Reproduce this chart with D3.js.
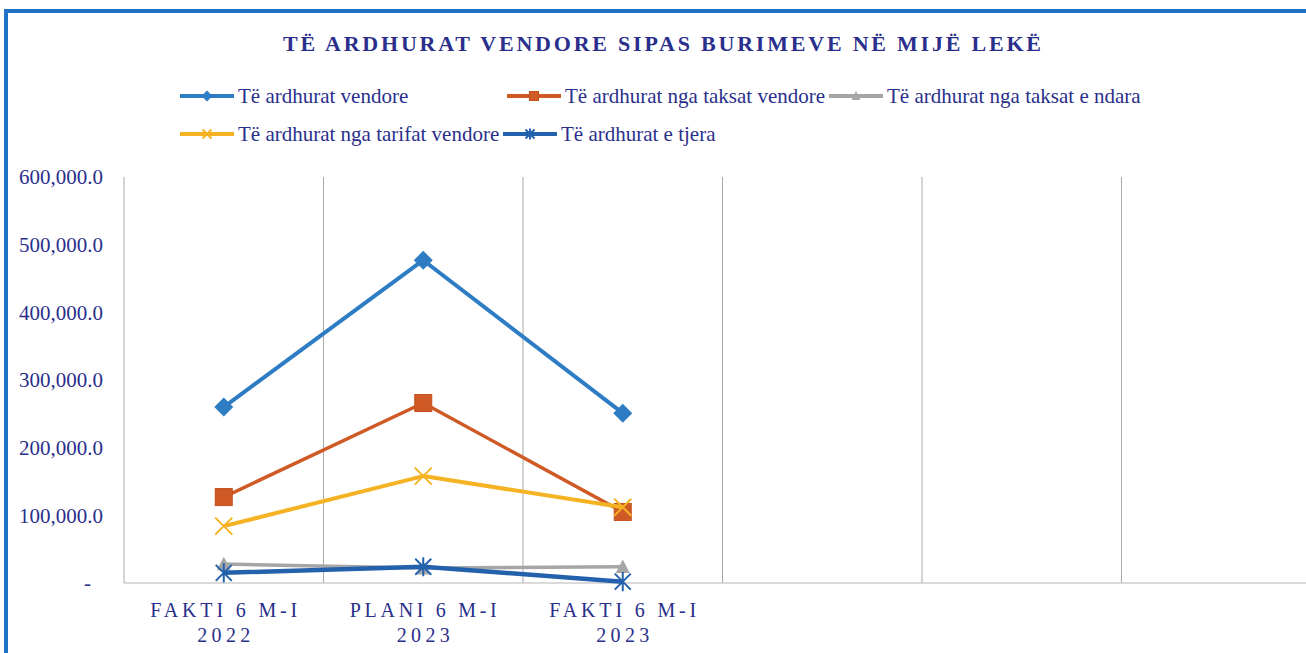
<!DOCTYPE html>
<html><head><meta charset="utf-8">
<script src="https://cdn.jsdelivr.net/npm/d3@7"></script>
<style>
html,body{margin:0;padding:0;background:#fff;}
svg{display:block;}
svg text{font-family:"Liberation Serif","DejaVu Serif","Times New Roman",serif;}
</style></head>
<body>
<script>
const title = "TË ARDHURAT VENDORE SIPAS BURIMEVE NË MIJË LEKË";
const categories = [["FAKTI 6 M-I","2022"],["PLANI 6 M-I","2023"],["FAKTI 6 M-I","2023"],["",""],["",""],["",""]];
const seriesNames = ["Të ardhurat vendore","Të ardhurat nga taksat vendore","Të ardhurat nga taksat e ndara","Të ardhurat nga tarifat vendore","Të ardhurat e tjera"];
const vendore = [260000, 477000, 251000];
const taksatVendore = [127000, 266000, 105000];
const taksatNdara = [28000, 22000, 24000];
const tarifat = [84000, 158000, 112000];
const tjera = [15000, 24000, 2000];
const yTicks = [0,100000,200000,300000,400000,500000,600000];

const colors = ["#2e7dc4","#cf5a26","#a6a6a6","#f5b323","#2361ad"];
const markers = ["diamond","square","triangle","x","star"];
const seriesValues = [vendore, taksatVendore, taksatNdara, tarifat, tjera];

const W=1306,H=653;
const svg=d3.select("body").append("svg").attr("width",W).attr("height",H);
const textColor="#2a2f8c";

// frame
svg.append("rect").attr("x",6).attr("y",11).attr("width",W).attr("height",H).attr("fill","none").attr("stroke","#1f72c4").attr("stroke-width",4);

// title
svg.append("text").attr("x",283).attr("y",51).attr("font-weight","bold")
  .attr("font-size",22).attr("fill",textColor).attr("textLength",758).attr("lengthAdjust","spacing").text(title);

const x=d3.scaleBand().domain(d3.range(categories.length)).range([124,1321]).paddingInner(0).paddingOuter(0);
const y=d3.scaleLinear().domain([0,600000]).range([583,177]);

// vertical gridlines at band boundaries
const g=svg.append("g");
d3.range(categories.length+1).forEach(i=>{
  const xx=124+i*x.bandwidth();
  g.append("line").attr("x1",xx).attr("x2",xx).attr("y1",177).attr("y2",583).attr("stroke","#a9a9a9").attr("stroke-width",1);
});
g.append("line").attr("x1",124).attr("x2",W).attr("y1",583).attr("y2",583).attr("stroke","#b5b5b5").attr("stroke-width",1.2);

// y axis
const yAxis=svg.append("g").attr("transform","translate(103,0)")
  .call(d3.axisLeft(y).tickValues(yTicks).tickSize(0).tickPadding(0)
    .tickFormat(d=>d===0?"-":d3.format(",.1f")(d)));
yAxis.select(".domain").remove();
yAxis.selectAll("text").attr("font-family",null).attr("font-size",21).attr("fill",textColor).attr("dy","0.32em");
yAxis.selectAll(".tick").filter(d=>d===0).select("text").attr("x",-12);

// category labels
categories.forEach((c,i)=>{
  if(!c[0]) return;
  const cx=x(i)+x.bandwidth()/2;
  svg.append("text").attr("x",cx-73.5).attr("y",617).attr("font-size",20).attr("fill",textColor)
    .attr("textLength",147).attr("lengthAdjust","spacing").text(c[0]);
  svg.append("text").attr("x",cx-26.5).attr("y",642).attr("font-size",20).attr("fill",textColor)
    .attr("textLength",53).attr("lengthAdjust","spacing").text(c[1]);
});

function drawMarker(sel,type,color,s){
  if(type==="diamond"){
    const r=s/2;
    sel.append("path").attr("d",`M0,${-r}L${r},0L0,${r}L${-r},0Z`).attr("fill",color);
  } else if(type==="square"){
    sel.append("rect").attr("x",-s/2).attr("y",-s/2).attr("width",s).attr("height",s).attr("fill",color).attr("stroke","#c4501c").attr("stroke-width",1);
  } else if(type==="triangle"){
    const h=s*0.9;
    sel.append("path").attr("d",`M0,${-h/2-1}L${s/2},${h/2}L${-s/2},${h/2}Z`).attr("fill",color);
  } else if(type==="x"){
    const r=s/2;
    sel.append("path").attr("d",`M${-r},${-r}L${r},${r}M${-r},${r}L${r},${-r}`).attr("stroke",color).attr("stroke-width",2).attr("fill","none");
  } else if(type==="star"){
    const r=s/2;
    sel.append("path").attr("d",`M${-r},${-r}L${r},${r}M${-r},${r}L${r},${-r}M0,${-r*1.2}L0,${r*1.2}`).attr("stroke",color).attr("stroke-width",2).attr("fill","none");
  }
}

const line=d3.line().x((d,i)=>x(i)+x.bandwidth()/2).y(d=>y(d));
const widths=[4,3.5,3.5,4,4.5];
const msizes=[19,17,14,17,16];
seriesValues.forEach((vals,k)=>{
  svg.append("path").attr("d",line(vals)).attr("fill","none").attr("stroke",colors[k]).attr("stroke-width",widths[k]).attr("stroke-linejoin","round");
  vals.forEach((v,i)=>{
    const m=svg.append("g").attr("transform",`translate(${x(i)+x.bandwidth()/2},${y(v)})`);
    drawMarker(m,markers[k],colors[k],msizes[k]);
  });
});

// legend
const legendPos=[[180,96],[507,96],[829,96],[180,134],[503,134]];
seriesNames.forEach((n,k)=>{
  const [lx,ly]=legendPos[k];
  const lg=svg.append("g").attr("transform",`translate(${lx},${ly})`);
  lg.append("line").attr("x1",0).attr("x2",54).attr("y1",0).attr("y2",0).attr("stroke",colors[k]).attr("stroke-width",4);
  const m=lg.append("g").attr("transform","translate(27,0)");
  drawMarker(m,markers[k],colors[k],k===0?11:9);
  lg.append("text").attr("x",58).attr("y",0).attr("dy","0.35em").attr("font-size",21).attr("fill",textColor).text(n);
});
</script>
</body></html>
